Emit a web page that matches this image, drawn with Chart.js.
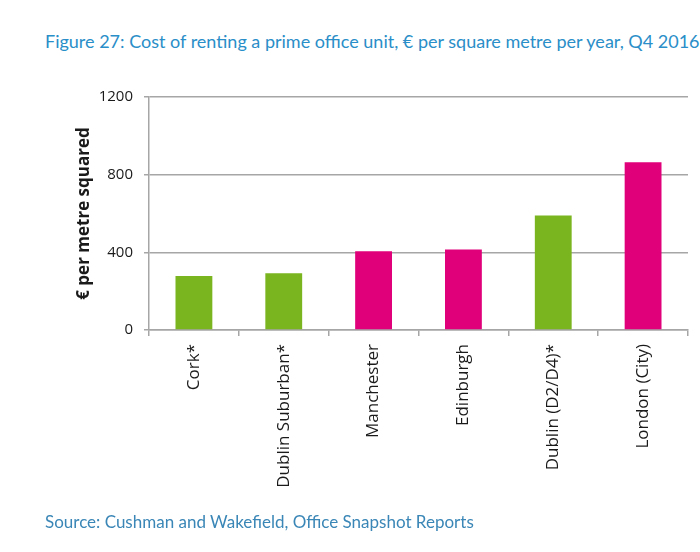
<!DOCTYPE html>
<html>
<head>
<meta charset="utf-8">
<script src="https://cdn.jsdelivr.net/npm/chart.js@4"></script>
<style>
  html, body { margin: 0; padding: 0; background: #fff; }
  body { width: 700px; height: 552px; position: relative; overflow: hidden; font-family: Lato, "Open Sans", sans-serif; }
  .fig-title { position: absolute; left: 45px; top: 30px; font-size: 18px; color: #2a8ec8; white-space: nowrap; }
  .fig-source { position: absolute; left: 45px; top: 511px; font-size: 17px; color: #3a86b6; white-space: nowrap; }
  .chart-wrap { position: absolute; left: 0; top: 0; width: 700px; height: 552px; }
</style>
</head>
<body>
<div class="fig-title">Figure 27: Cost of renting a prime office unit, € per square metre per year, Q4 2016</div>
<div class="chart-wrap"><canvas id="rentChart"></canvas></div>
<div class="fig-source">Source: Cushman and Wakefield, Office Snapshot Reports</div>
<script>
const cities = ['Cork*', 'Dublin Suburban*', 'Manchester', 'Edinburgh', 'Dublin (D2/D4)*', 'London (City)'];
const rentValues = [278, 292, 406, 415, 590, 864];
const isIrish = [true, true, false, false, true, false];
const yTicks = [0, 400, 800, 1200];

const GREEN = '#7ab51f';
const MAGENTA = '#e0007a';
const GRID = '#a6a6a6';
const AXIS_FONT = '"Open Sans", Lato, sans-serif';

function initChart() {
  const canvas = document.getElementById('rentChart');
  if (!canvas || typeof Chart === 'undefined') return;

  new Chart(canvas, {
    type: 'bar',
    data: {
      labels: cities,
      datasets: [
        {
          data: rentValues,
          backgroundColor: isIrish.map(irish => (irish ? GREEN : MAGENTA)),
          borderWidth: 0,
          categoryPercentage: 1,
          barPercentage: 0.41
        }
      ]
    },
    options: {
      responsive: true,
      maintainAspectRatio: false,
      animation: false,
      layout: {
        padding: { top: 97, right: 12, bottom: 0, left: 0 }
      },
      plugins: {
        legend: { display: false },
        tooltip: { enabled: false }
      },
      scales: {
        x: {
          afterFit: scale => { scale.height = 222; },
          grid: {
            offset: true,
            drawOnChartArea: false,
            drawTicks: true,
            tickLength: 6,
            color: GRID,
            lineWidth: 1.5
          },
          border: { display: true, color: GRID, width: 1.5 },
          ticks: {
            minRotation: 90,
            maxRotation: 90,
            padding: 8,
            color: '#1a1a1a',
            font: { family: AXIS_FONT, size: 17 }
          }
        },
        y: {
          min: 0,
          max: 1200,
          afterFit: scale => { scale.width = 149; },
          afterBuildTicks: scale => {
            scale.ticks = yTicks.map(value => ({ value }));
          },
          grid: {
            color: GRID,
            lineWidth: 1.5,
            tickLength: 5
          },
          border: { display: true, color: GRID, width: 1.5 },
          ticks: {
            padding: 11,
            color: '#1a1a1a',
            font: { family: AXIS_FONT, size: 15 },
            callback: value => String(value)
          },
          title: {
            display: true,
            text: '€ per metre squared',
            color: '#1a1a1a',
            padding: { top: 74, bottom: 0 },
            font: { family: AXIS_FONT, size: 17, weight: 'bold' }
          }
        }
      }
    }
  });
}

document.addEventListener('DOMContentLoaded', initChart);
</script>
</body>
</html>
